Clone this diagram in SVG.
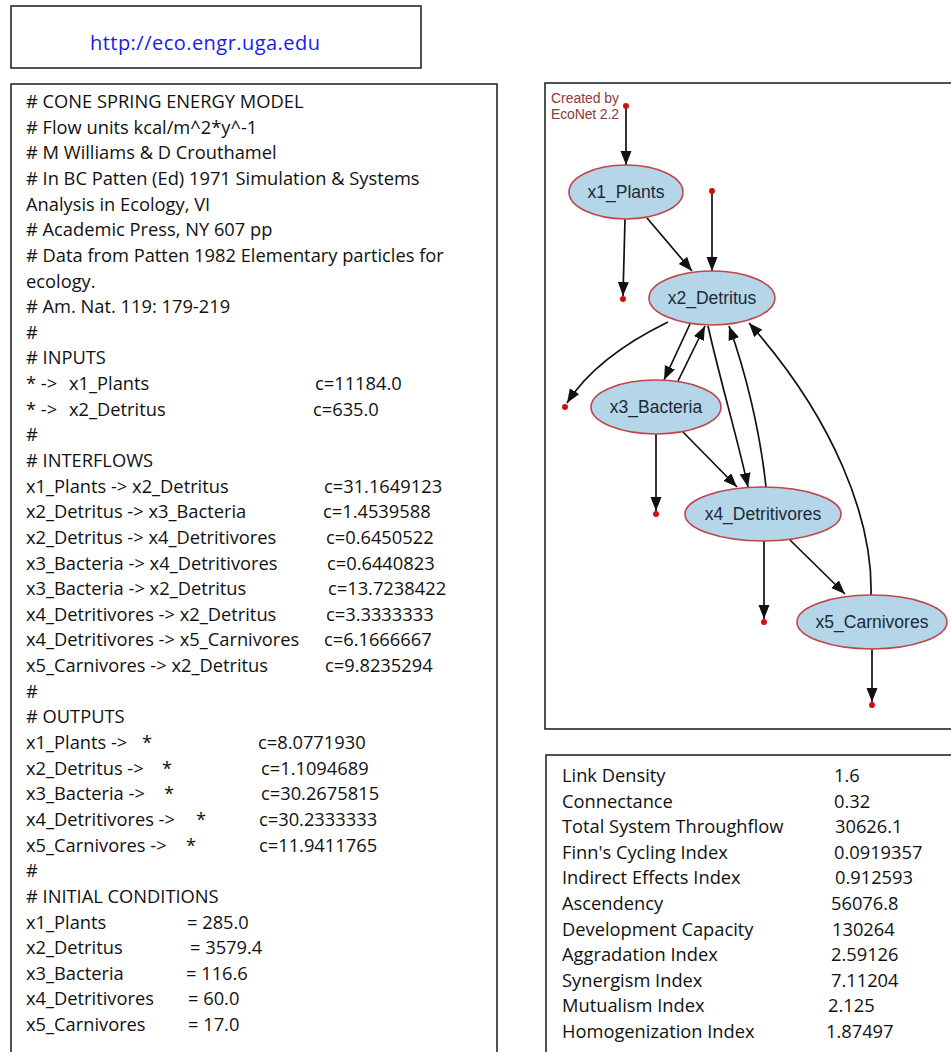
<svg xmlns="http://www.w3.org/2000/svg" width="951" height="1052" viewBox="0 0 951 1052">
<style>
.box{fill:#fff;stroke:#1a1a1a;stroke-width:1.5}
.t{font-family:"Open Sans","Liberation Sans",sans-serif;font-size:18.3px;fill:#111}
.url{font-family:"Open Sans","Liberation Sans",sans-serif;font-size:20px;fill:#1a1aee}
.node ellipse{fill:#b5d5e8;stroke:#c0454a;stroke-width:1.6}
.node text{font-family:"Liberation Sans",Arial,sans-serif;font-size:17.5px;fill:#1c2a36;text-anchor:middle}
.edge{fill:none;stroke:#111;stroke-width:1.7;marker-end:url(#ah)}
.dot{fill:#d01010}
.credit{font-family:"Liberation Sans",Arial,sans-serif;font-size:14px;fill:#8a3a3a}
</style>
<defs>
<marker id="ah" markerUnits="userSpaceOnUse" markerWidth="15" markerHeight="12" refX="14" refY="5.5" orient="auto">
<path d="M0,0 L14,5.5 L0,11 Z" fill="#111"/>
</marker>
</defs>
<rect width="951" height="1052" fill="#fff"/>

<g id="url-box">
<rect class="box" x="11" y="6" width="410" height="62"/>
<text class="url" x="205" y="50" text-anchor="middle" textLength="230">http://eco.engr.uga.edu</text>
</g>

<g id="model-text">
<rect class="box" x="11" y="84" width="486" height="980"/>
<text class="t" x="26" y="108">
<tspan x="26" y="108"># CONE SPRING ENERGY MODEL</tspan>
<tspan x="26" y="133.6"># Flow units kcal/m^2*y^-1</tspan>
<tspan x="26" y="159.3"># M Williams &amp; D Crouthamel</tspan>
<tspan x="26" y="184.9"># In BC Patten (Ed) 1971 Simulation &amp; Systems</tspan>
<tspan x="26" y="210.6">Analysis in Ecology, VI</tspan>
<tspan x="26" y="236.2"># Academic Press, NY 607 pp</tspan>
<tspan x="26" y="261.8"># Data from Patten 1982 Elementary particles for</tspan>
<tspan x="26" y="287.5">ecology.</tspan>
<tspan x="26" y="313.1"># Am. Nat. 119: 179-219</tspan>
<tspan x="26" y="338.8">#</tspan>
<tspan x="26" y="364.4"># INPUTS</tspan>
<tspan x="26" y="390.0">* -&gt;</tspan><tspan x="69" y="390.0">x1_Plants</tspan><tspan x="315" y="390.0">c=11184.0</tspan>
<tspan x="26" y="415.7">* -&gt;</tspan><tspan x="69" y="415.7">x2_Detritus</tspan><tspan x="313" y="415.7">c=635.0</tspan>
<tspan x="26" y="441.3">#</tspan>
<tspan x="26" y="467.0"># INTERFLOWS</tspan>
<tspan x="26" y="492.6">x1_Plants -&gt; x2_Detritus</tspan><tspan x="324" y="492.6">c=31.1649123</tspan>
<tspan x="26" y="518.2">x2_Detritus -&gt; x3_Bacteria</tspan><tspan x="323" y="518.2">c=1.4539588</tspan>
<tspan x="26" y="543.9">x2_Detritus -&gt; x4_Detritivores</tspan><tspan x="326" y="543.9">c=0.6450522</tspan>
<tspan x="26" y="569.5">x3_Bacteria -&gt; x4_Detritivores</tspan><tspan x="327" y="569.5">c=0.6440823</tspan>
<tspan x="26" y="595.2">x3_Bacteria -&gt; x2_Detritus</tspan><tspan x="328" y="595.2">c=13.7238422</tspan>
<tspan x="26" y="620.8">x4_Detritivores -&gt; x2_Detritus</tspan><tspan x="326" y="620.8">c=3.3333333</tspan>
<tspan x="26" y="646.4">x4_Detritivores -&gt; x5_Carnivores</tspan><tspan x="324" y="646.4">c=6.1666667</tspan>
<tspan x="26" y="672.1">x5_Carnivores -&gt; x2_Detritus</tspan><tspan x="325" y="672.1">c=9.8235294</tspan>
<tspan x="26" y="697.7">#</tspan>
<tspan x="26" y="723.4"># OUTPUTS</tspan>
<tspan x="26" y="749.0">x1_Plants -&gt;</tspan><tspan x="142" y="749.0">*</tspan><tspan x="258" y="749.0">c=8.0771930</tspan>
<tspan x="26" y="774.6">x2_Detritus -&gt;</tspan><tspan x="162" y="774.6">*</tspan><tspan x="261" y="774.6">c=1.1094689</tspan>
<tspan x="26" y="800.3">x3_Bacteria -&gt;</tspan><tspan x="164" y="800.3">*</tspan><tspan x="261" y="800.3">c=30.2675815</tspan>
<tspan x="26" y="825.9">x4_Detritivores -&gt;</tspan><tspan x="196" y="825.9">*</tspan><tspan x="259" y="825.9">c=30.2333333</tspan>
<tspan x="26" y="851.6">x5_Carnivores -&gt;</tspan><tspan x="186" y="851.6">*</tspan><tspan x="259" y="851.6">c=11.9411765</tspan>
<tspan x="26" y="877.2">#</tspan>
<tspan x="26" y="902.8"># INITIAL CONDITIONS</tspan>
<tspan x="26" y="928.5">x1_Plants</tspan><tspan x="187" y="928.5">= 285.0</tspan>
<tspan x="26" y="954.1">x2_Detritus</tspan><tspan x="190" y="954.1">= 3579.4</tspan>
<tspan x="26" y="979.8">x3_Bacteria</tspan><tspan x="186" y="979.8">= 116.6</tspan>
<tspan x="26" y="1005.4">x4_Detritivores</tspan><tspan x="188" y="1005.4">= 60.0</tspan>
<tspan x="26" y="1031.0">x5_Carnivores</tspan><tspan x="188" y="1031.0">= 17.0</tspan>
</text>
</g>

<g id="graph-frame">
<rect class="box" x="545" y="83" width="420" height="646"/>
<text class="credit" x="551" y="103" textLength="68">Created by</text>
<text class="credit" x="551" y="119" textLength="68">EcoNet 2.2</text>
</g>

<g id="connectors">
<path class="edge" d="M626,108 L626,165"/>
<path class="edge" d="M712,193 L712,271"/>
<path class="edge" d="M625,219 L623,296"/>
<path class="edge" d="M647,218 L692,271"/>
<path class="edge" d="M668,322 C625,343 588,370 567,403"/>
<path class="edge" d="M690,324 L664,380"/>
<path class="edge" d="M678,381 L705,326"/>
<path class="edge" d="M708,326 C720,380 738,440 748,487"/>
<path class="edge" d="M766,487 C760,430 745,370 729,326"/>
<path class="edge" d="M683,432 L737,487"/>
<path class="edge" d="M656,434 L656,511"/>
<path class="edge" d="M790,540 L845,594"/>
<path class="edge" d="M764,541 L764,619"/>
<path class="edge" d="M871,595 C873,520 835,420 749,323"/>
<path class="edge" d="M872,649 L872,702"/>
<circle class="dot" cx="626" cy="106" r="3"/>
<circle class="dot" cx="712" cy="191" r="3"/>
<circle class="dot" cx="623" cy="299" r="3"/>
<circle class="dot" cx="565" cy="407" r="3"/>
<circle class="dot" cx="656" cy="514" r="3"/>
<circle class="dot" cx="764" cy="622" r="3"/>
<circle class="dot" cx="872" cy="705" r="3"/>
</g>

<g id="x1_Plants" class="node"><ellipse cx="626" cy="192" rx="57" ry="27"/><text x="626" y="198">x1_Plants</text></g>
<g id="x2_Detritus" class="node"><ellipse cx="712" cy="298" rx="63" ry="27"/><text x="712" y="304">x2_Detritus</text></g>
<g id="x3_Bacteria" class="node"><ellipse cx="656" cy="407" rx="65" ry="27"/><text x="656" y="413">x3_Bacteria</text></g>
<g id="x4_Detritivores" class="node"><ellipse cx="763" cy="514" rx="78" ry="27"/><text x="763" y="520">x4_Detritivores</text></g>
<g id="x5_Carnivores" class="node"><ellipse cx="872" cy="622" rx="75" ry="27"/><text x="872" y="628">x5_Carnivores</text></g>

<g id="indices-table">
<rect class="box" x="546" y="755" width="420" height="310"/>
<text class="t">
<tspan x="562" y="782">Link Density</tspan><tspan x="834" y="782">1.6</tspan>
<tspan x="562" y="807.6">Connectance</tspan><tspan x="834" y="807.6">0.32</tspan>
<tspan x="562" y="833.2">Total System Throughflow</tspan><tspan x="835" y="833.2">30626.1</tspan>
<tspan x="562" y="858.8">Finn's Cycling Index</tspan><tspan x="834" y="858.8">0.0919357</tspan>
<tspan x="562" y="884.4">Indirect Effects Index</tspan><tspan x="835" y="884.4">0.912593</tspan>
<tspan x="562" y="910">Ascendency</tspan><tspan x="831" y="910">56076.8</tspan>
<tspan x="562" y="935.6">Development Capacity</tspan><tspan x="832" y="935.6">130264</tspan>
<tspan x="562" y="961.2">Aggradation Index</tspan><tspan x="831" y="961.2">2.59126</tspan>
<tspan x="562" y="986.8">Synergism Index</tspan><tspan x="831" y="986.8">7.11204</tspan>
<tspan x="562" y="1012.4">Mutualism Index</tspan><tspan x="828" y="1012.4">2.125</tspan>
<tspan x="562" y="1038">Homogenization Index</tspan><tspan x="826" y="1038">1.87497</tspan>
</text>
</g>
</svg>
